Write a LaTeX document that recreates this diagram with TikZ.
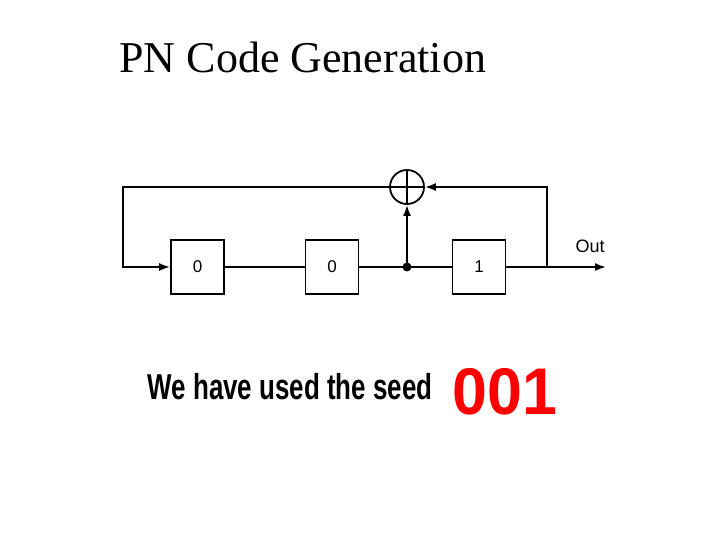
\documentclass[tikz,border=0pt]{standalone}
\usepackage{fontspec}
\setmainfont{Liberation Serif}
\newfontfamily\arialfont{Liberation Sans}
\usetikzlibrary{positioning,arrows.meta}
\tikzset{
  reg/.style={draw,line width=1.8pt,minimum width=53pt,minimum height=54pt,font=\arialfont\fontsize{17}{17}\selectfont},
  wire/.style={line width=1.8pt},
  flow/.style={wire,-{Latex[length=11pt,width=8pt]}}
}
\begin{document}
\begin{tikzpicture}[x=1pt,y=-1pt]
  \useasboundingbox (0,0) rectangle (720,540);
  \node[anchor=west,font=\fontsize{44}{44}\selectfont] (title) at (116,57) {PN Code Generation};
  \node[reg] (r1) at (197.5,267) {0};
  \node[reg] (r2) at (332,267) {0};
  \node[reg] (r3) at (479,267) {1};
  \node[draw,circle,wire,minimum size=34pt,inner sep=0pt] (xor) at (407,187) {};
  \draw[wire] (xor.north) -- (xor.south) (xor.west) -- (xor.east);
  \coordinate (tap) at (407,267);
  \coordinate (tl) at (123,187);
  \coordinate (bl) at (123,267);
  \coordinate (tr) at (547,187);
  \coordinate (out) at (606,267);
  \draw[flow] (xor.west) -- (tl) -- (bl) -- (r1.west);
  \draw[wire] (r1) -- (r2) (r2) -- (r3);
  \fill (tap) circle (4.5pt);
  \draw[flow] (tap) -- (xor.south);
  \draw[flow] (r3.east) -- (out);
  \draw[flow] (tr |- out) -- (tr) -- (xor.east);
  \node[font=\arialfont\fontsize{18}{18}\selectfont] (outlbl) at (590,246) {Out};
  \node[font=\arialfont\bfseries\fontsize{36}{36}\selectfont,xscale=0.72] (seed) at (290,387) {We have used the seed};
  \node[font=\arialfont\bfseries\fontsize{66}{66}\selectfont,text=red,xscale=0.95] (code) at (505,392) {001};
\end{tikzpicture}
\end{document}
